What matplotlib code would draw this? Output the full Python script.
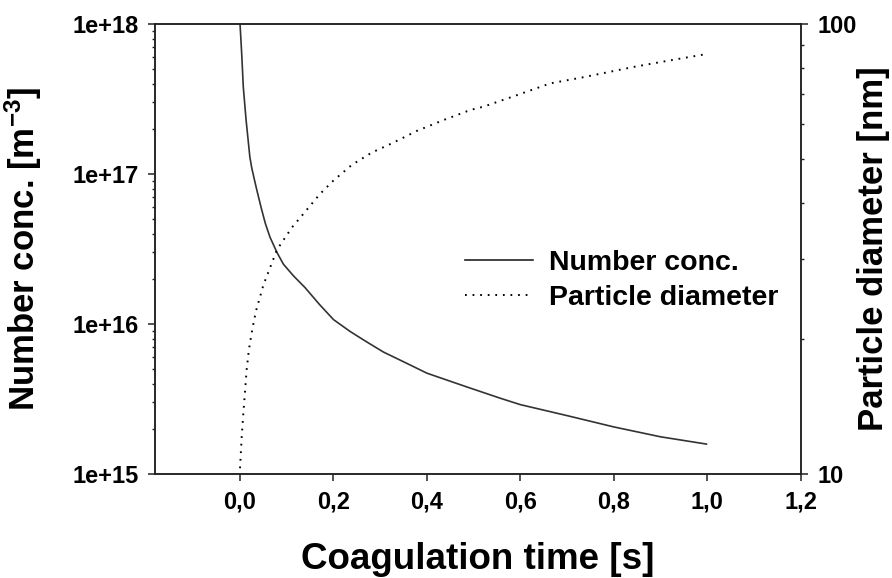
import matplotlib
matplotlib.use("Agg")
import matplotlib.pyplot as plt
from matplotlib.ticker import FixedLocator, FuncFormatter, NullFormatter, NullLocator
from matplotlib.lines import Line2D

# ---- data ----
time_nc = [0.0, 0.0036, 0.007, 0.0129, 0.021, 0.025, 0.031, 0.036, 0.045, 0.054, 0.064,
           0.079, 0.093, 0.114, 0.139, 0.17, 0.2, 0.236, 0.271, 0.307, 0.35, 0.4, 0.486,
           0.557, 0.6, 0.7, 0.8, 0.9, 1.0]
number_conc = [1e18, 6.3e17, 3.8e17, 2.3e17, 1.3e17, 1.1e17, 9.1e16, 7.8e16, 6.0e16, 4.7e16, 3.8e16,
               3.0e16, 2.5e16, 2.1e16, 1.75e16, 1.35e16, 1.07e16, 8.9e15, 7.6e15, 6.5e15, 5.6e15, 4.7e15, 3.8e15,
               3.2e15, 2.9e15, 2.45e15, 2.06e15, 1.77e15, 1.58e15]

time_d = [0.0, 0.0036, 0.007, 0.011, 0.014, 0.019, 0.026, 0.034, 0.05, 0.079, 0.111,
          0.136, 0.171, 0.2, 0.239, 0.282, 0.325, 0.379, 0.436, 0.493, 0.521, 0.593,
          0.664, 0.736, 0.843, 0.914, 1.0]
diameter = [10.3, 12.1, 13.6, 15.4, 17.0, 18.9, 20.9, 23.0, 26.3, 31.5, 35.3,
            37.9, 41.9, 44.9, 48.6, 51.8, 54.3, 57.9, 61.2, 64.4, 65.5, 69.5,
            73.8, 76.2, 80.3, 82.8, 85.8]

x_ticks = [0.0, 0.2, 0.4, 0.6, 0.8, 1.0, 1.2]
left_ticks = [1e15, 1e16, 1e17, 1e18]
left_ticklabels = ["1e+15", "1e+16", "1e+17", "1e+18"]
right_ticks = [10, 100]
right_ticklabels = ["10", "100"]
labels = ["Number conc.", "Particle diameter"]

plt.rcParams["font.family"] = ["Liberation Sans", "DejaVu Sans"]
plt.rcParams["font.weight"] = "bold"
plt.rcParams["mathtext.fontset"] = "custom"
plt.rcParams["mathtext.rm"] = "Liberation Sans:bold"
plt.rcParams["mathtext.bf"] = "Liberation Sans:bold"
plt.rcParams["mathtext.default"] = "rm"

fig = plt.figure(figsize=(8.92, 5.78), dpi=100)
ax = fig.add_axes([155/892, 1-474/578, (800.7-155)/892, (474-24)/578])
ax2 = ax.twinx()

line1, = ax.plot(time_nc, number_conc, color="#333333", lw=1.2, solid_capstyle="butt")
line2, = ax2.plot(time_d, diameter, color="black", lw=1.4, linestyle=(0, (0.9, 3.0)))

ax.set_yscale("log")
ax2.set_yscale("log")
ax.set_xlim(-0.182, 1.2)
ax.set_ylim(1e15, 1e18)
ax2.set_ylim(10, 100)

ax.xaxis.set_major_locator(FixedLocator(x_ticks))
ax.xaxis.set_major_formatter(FuncFormatter(lambda v, p: f"{v:.1f}".replace(".", ",")))
ax.xaxis.set_minor_locator(NullLocator())

ax.yaxis.set_major_locator(FixedLocator(left_ticks))
ax.yaxis.set_major_formatter(FuncFormatter(lambda v, p: left_ticklabels[left_ticks.index(v)] if v in left_ticks else ""))
left_minor = [m * 10**e for e in (15, 16, 17) for m in range(2, 10)]
ax.yaxis.set_minor_locator(FixedLocator(left_minor))
ax.yaxis.set_minor_formatter(NullFormatter())

ax2.yaxis.set_major_locator(FixedLocator(right_ticks))
ax2.yaxis.set_major_formatter(FuncFormatter(lambda v, p: right_ticklabels[right_ticks.index(v)] if v in right_ticks else ""))
ax2.yaxis.set_minor_locator(FixedLocator([20, 30, 40, 50, 60, 70, 80, 90]))
ax2.yaxis.set_minor_formatter(NullFormatter())

for a in (ax, ax2):
    for s in a.spines.values():
        s.set_linewidth(1.1)
        s.set_color("#222222")

ax.tick_params(axis="both", which="major", direction="out", length=5, width=1.1,
               labelsize=17, pad=7, colors="#222222", labelcolor="black")
ax.tick_params(axis="y", which="minor", direction="out", length=2.5, width=1.0, colors="#222222")
ax2.tick_params(axis="y", which="major", direction="out", length=5, width=1.1,
                labelsize=17, pad=7, colors="#222222", labelcolor="black")
ax2.tick_params(axis="y", which="minor", direction="out", length=2.5, width=1.0, colors="#222222")

ax.set_xlabel("Coagulation time [s]", fontsize=26.5, fontweight="bold")
ax.set_ylabel("Number conc. [m$^{-3}$]", fontsize=25, fontweight="bold")
ax2.set_ylabel("Particle diameter [nm]", fontsize=25, fontweight="bold", rotation=90)
ax.xaxis.set_label_coords(0.5, -0.151)
ax.yaxis.set_label_coords(-0.172, 0.5)
ax2.yaxis.set_label_coords(1.087, 0.5)

handles = [Line2D([], [], color="#222222", lw=1.2),
           Line2D([], [], color="black", lw=1.4, linestyle=(0, (0.9, 3.0)))]
leg = ax.legend(handles, labels, loc="upper left", bbox_to_anchor=((465-155)/645.7, (474-245)/450 - 0.012),
                frameon=False, handlelength=2.4, handletextpad=0.55,
                labelspacing=0.3, borderpad=0, borderaxespad=0,
                prop={"size": 20.5, "weight": "bold"})

fig.savefig("out.png", dpi=100)
